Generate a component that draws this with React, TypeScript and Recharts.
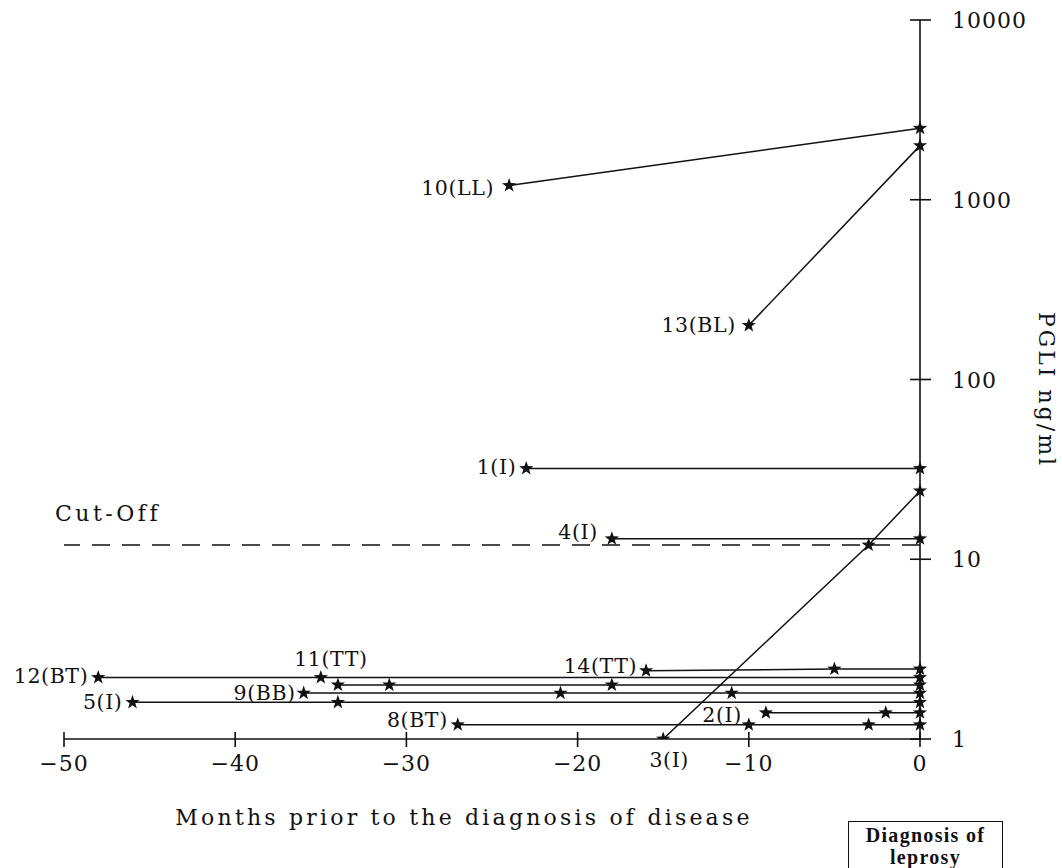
import React from 'react';
import { LineChart, Line, XAxis, YAxis, ReferenceLine, LabelList } from 'recharts';

// Months before diagnosis (x) and PGLI level in ng/ml (v), one list per patient.
const patient10 = [{ m: -24, v: 1200 }, { m: 0, v: 2500 }];
const patient13 = [{ m: -10, v: 200 }, { m: 0, v: 2000 }];
const patient1 = [{ m: -23, v: 32 }, { m: 0, v: 32 }];
const patient4 = [{ m: -18, v: 13 }, { m: 0, v: 13 }];
const patient3 = [{ m: -15, v: 1 }, { m: -3, v: 12 }, { m: 0, v: 24 }];
const patient14 = [{ m: -16, v: 2.4 }, { m: -5, v: 2.45 }, { m: 0, v: 2.45 }];
const patient12 = [{ m: -48, v: 2.2 }, { m: -35, v: 2.2 }, { m: 0, v: 2.2 }];
const patient11 = [{ m: -34, v: 2.0 }, { m: -31, v: 2.0 }, { m: -18, v: 2.0 }, { m: 0, v: 2.0 }];
const patient9 = [{ m: -36, v: 1.8 }, { m: -21, v: 1.8 }, { m: -11, v: 1.8 }, { m: 0, v: 1.8 }];
const patient5 = [{ m: -46, v: 1.6 }, { m: -34, v: 1.6 }, { m: 0, v: 1.6 }];
const patient2 = [{ m: -9, v: 1.4 }, { m: -2, v: 1.4 }, { m: 0, v: 1.4 }];
const patient8 = [{ m: -27, v: 1.2 }, { m: -10, v: 1.2 }, { m: -3, v: 1.2 }, { m: 0, v: 1.2 }];

const patientNames = ['10(LL)', '13(BL)', '1(I)', '4(I)', '3(I)', '14(TT)', '12(BT)', '11(TT)', '9(BB)', '5(I)', '2(I)', '8(BT)'];
const patientSeries = [patient10, patient13, patient1, patient4, patient3, patient14, patient12, patient11, patient9, patient5, patient2, patient8];

const monthTicks = [-50, -40, -30, -20, -10, 0];
const pgliTicks = [1, 10, 100, 1000, 10000];
const cutOff = 12;

const xTitle = 'Months prior to the diagnosis of disease';
const yTitle = 'PGLI ng/ml';
const cutOffText = 'Cut-Off';
const boxLines = ['Diagnosis of', 'leprosy'];

// where each patient's name sits relative to its first reading
const namePlacement: Record<string, { anchor: 'end' | 'middle'; dx: number; dy: number }> = {
  '10(LL)': { anchor: 'end', dx: -15, dy: 2 },
  '13(BL)': { anchor: 'end', dx: -13, dy: 0 },
  '1(I)': { anchor: 'end', dx: -10, dy: -1 },
  '4(I)': { anchor: 'end', dx: -14, dy: -7 },
  '3(I)': { anchor: 'middle', dx: 6, dy: 21 },
  '14(TT)': { anchor: 'end', dx: -9, dy: -5 },
  '12(BT)': { anchor: 'end', dx: -10, dy: -1 },
  '11(TT)': { anchor: 'middle', dx: -7, dy: -26 },
  '9(BB)': { anchor: 'end', dx: -8, dy: 0 },
  '5(I)': { anchor: 'end', dx: -10, dy: 0 },
  '2(I)': { anchor: 'end', dx: -24, dy: 2 },
  '8(BT)': { anchor: 'end', dx: -10, dy: -5 },
};

const INK = '#111';
const FONT = '"DejaVu Serif", serif';

const fmtMonth = (v: number) => (v < 0 ? `\u2212${Math.abs(v)}` : `${v}`);

function starPoints(cx: number, cy: number, R: number, r: number) {
  const pts: string[] = [];
  for (let i = 0; i < 10; i++) {
    const rad = i % 2 === 0 ? R : r;
    const a = -Math.PI / 2 + (i * Math.PI) / 5;
    pts.push(`${(cx + rad * Math.cos(a)).toFixed(2)},${(cy + rad * Math.sin(a)).toFixed(2)}`);
  }
  return pts.join(' ');
}

const MonthTick = (props: any) => {
  const { x, y, payload } = props;
  return (
    <g>
      <line x1={x} x2={x} y1={y - 7} y2={y + 8} stroke={INK} strokeWidth={1.6} />
      <text x={x} y={y + 32} textAnchor="middle" fontFamily={FONT} fontSize={22} letterSpacing={1} fill={INK}>
        {fmtMonth(payload.value)}
      </text>
    </g>
  );
};

const PgliTick = (props: any) => {
  const { x, y, payload } = props;
  return (
    <g>
      <line x1={x - 10} x2={x + 11} y1={y} y2={y} stroke={INK} strokeWidth={1.6} />
      <text x={x + 32} y={y + 8} textAnchor="start" fontFamily={FONT} fontSize={22} letterSpacing={1} fill={INK}>
        {payload.value}
      </text>
    </g>
  );
};

const nameLabel = (name: string) => (props: any) => {
  if (props.index !== 0) return null;
  const px = props.viewBox?.x ?? props.x;
  const py = props.viewBox?.y ?? props.y;
  const p = namePlacement[name];
  return (
    <text
      x={px + p.dx}
      y={py + p.dy + 7}
      textAnchor={p.anchor}
      fontFamily={FONT}
      fontSize={20.5}
      letterSpacing={0.6}
      fill={INK}
    >
      {name}
    </text>
  );
};

export default function App() {
  return (
    <div style={{ position: 'absolute', left: 0, top: 0, width: 1062, height: 868, background: '#fff', overflow: 'hidden' }}>
      <LineChart width={1062} height={868} margin={{ top: 20, right: 22, bottom: 89, left: 64 }}>
        <XAxis
          type="number"
          dataKey="m"
          domain={[-50, 0]}
          ticks={monthTicks}
          allowDuplicatedCategory={false}
          height={40}
          tickLine={false}
          tickSize={0}
          tickMargin={0}
          axisLine={{ stroke: INK, strokeWidth: 1.6 }}
          tick={<MonthTick />}
          label={(p: any) => {
            const vb = p.viewBox || { x: 64, y: 739 };
            return (
              <text x={vb.x + 400} y={vb.y + 86} textAnchor="middle" fontFamily={FONT} fontSize={22} letterSpacing={3.2} fill={INK}>
                {xTitle}
              </text>
            );
          }}
        />
        <YAxis
          type="number"
          dataKey="v"
          scale="log"
          domain={[1, 10000]}
          ticks={pgliTicks}
          allowDataOverflow
          orientation="right"
          width={120}
          tickLine={false}
          tickSize={0}
          tickMargin={0}
          axisLine={{ stroke: INK, strokeWidth: 1.6 }}
          tick={<PgliTick />}
          label={(p: any) => {
            const vb = p.viewBox || { x: 920, y: 20 };
            const cx = vb.x + 126;
            const cy = vb.y + 370;
            return (
              <text
                x={cx}
                y={cy}
                transform={`rotate(90, ${cx}, ${cy})`}
                textAnchor="middle"
                dominantBaseline="central"
                fontFamily={FONT}
                fontSize={22}
                letterSpacing={3}
                fill={INK}
              >
                {yTitle}
              </text>
            );
          }}
        />
        <ReferenceLine
          y={cutOff}
          stroke={INK}
          strokeWidth={1.6}
          strokeDasharray="18 12"
          label={(p: any) => {
            const vb = p.viewBox || { x: 64, y: 545 };
            return (
              <text x={vb.x - 9} y={vb.y - 24} fontFamily={FONT} fontSize={22} letterSpacing={3.5} fill={INK}>
                {cutOffText}
              </text>
            );
          }}
        />
        {patientSeries.map((series, i) => (
          <Line
            key={patientNames[i]}
            data={series}
            dataKey="v"
            type="linear"
            stroke={INK}
            strokeWidth={1.5}
            isAnimationActive={false}
            dot={(d: any) => (
              <polygon key={`${patientNames[i]}-${d.index}`} points={starPoints(d.cx, d.cy, 7.5, 3)} fill={INK} />
            )}
            activeDot={false}
          >
            <LabelList dataKey="v" content={nameLabel(patientNames[i])} />
          </Line>
        ))}
      </LineChart>
      <div
        style={{
          position: 'absolute',
          left: 848,
          top: 821,
          width: 155,
          height: 50,
          border: `1.5px solid ${INK}`,
          fontFamily: '"Liberation Serif", serif',
          fontWeight: 'bold',
          fontSize: 20,
          lineHeight: '22px',
          letterSpacing: 1.3,
          textAlign: 'center',
          color: INK,
          paddingTop: 2,
          boxSizing: 'border-box',
        }}
      >
        {boxLines.map((t) => (
          <div key={t}>{t}</div>
        ))}
      </div>
    </div>
  );
}
